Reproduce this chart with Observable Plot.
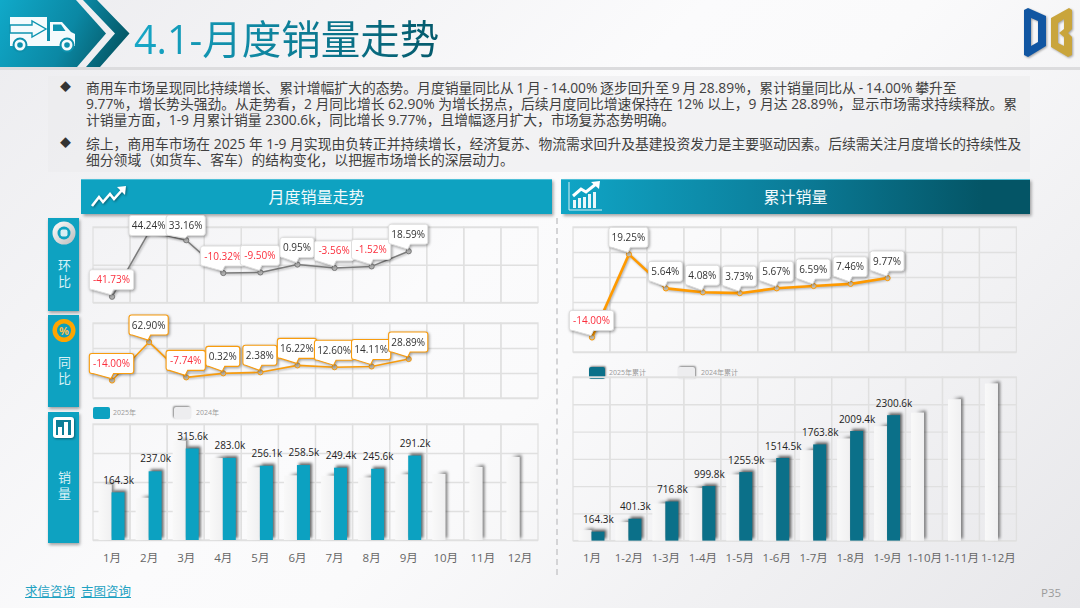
<!DOCTYPE html>
<html lang="zh-CN"><head><meta charset="utf-8">
<script src="https://cdn.jsdelivr.net/npm/d3@7"></script>
<script src="https://cdn.jsdelivr.net/npm/@observablehq/plot@0.6"></script>
<style>
html,body{margin:0;padding:0}
body{width:1080px;height:608px;overflow:hidden;position:relative;font-family:"Open Sans","Noto Sans CJK SC",sans-serif;
background:linear-gradient(135deg,#ececef 0%,#fbfbfc 42%,#fafafb 55%,#e7e7ea 100%)}
.a{position:absolute}
.plotbox{position:absolute}
.plotbox svg{overflow:visible;background:none;display:block}
.line{position:absolute;left:86px;font-size:13.8px;line-height:16px;color:#404040;white-space:nowrap}
.bul{position:absolute;left:60px;font-size:11px;line-height:16px;color:#333}
.side{position:absolute;left:48px;width:31px;background:#0ea2c1;box-shadow:1px 2px 3px rgba(0,0,0,.35)}
.sideText{position:absolute;left:48px;width:31px;display:flex;justify-content:center;color:#d9f1f6;font-size:13px;line-height:31px;writing-mode:vertical-rl;text-orientation:upright;letter-spacing:2.5px;white-space:nowrap}
.head{position:absolute;top:179px;height:35px;line-height:35px;text-align:center;color:#f2fafc;font-size:16px;box-shadow:1.5px 2px 3px rgba(0,0,0,.35);border-top:1px solid #4fc0d8;box-sizing:border-box}
.sw{position:absolute;border-radius:2px}
.lg{position:absolute;font-size:7px;line-height:10px;color:#9a9a9a;white-space:nowrap}
</style></head><body>
<svg width="0" height="0" style="position:absolute"><defs>
<linearGradient id="shade24" x1="0" x2="1" y1="0" y2="0"><stop offset="0.25" stop-color="#fff" stop-opacity="0"/><stop offset="1" stop-color="#eee" stop-opacity="1"/></linearGradient>
<linearGradient id="face24" x1="0" x2="1" y1="0" y2="0"><stop offset="0" stop-color="#f9f9f9"/><stop offset="1" stop-color="#f0f0f1"/></linearGradient>
</defs></svg>

<!-- header banner -->
<div class="a" style="left:0;top:67px;width:1080px;height:3px;background:#dcdcde"></div>
<svg class="a" style="left:0;top:0" width="140" height="68">
<defs><linearGradient id="ban" gradientUnits="userSpaceOnUse" x1="0" y1="0" x2="125" y2="60"><stop offset="0" stop-color="#10a9c9"/><stop offset="0.55" stop-color="#0b88a4"/><stop offset="1" stop-color="#04525f"/></linearGradient></defs>
<polygon points="0,0 76,0 106,33.5 77,67 0,67" fill="url(#ban)"/>
<polygon points="83,0 97,0 129.5,33.5 100,67 86,67 115,33.5" fill="url(#ban)"/>
<g fill="#f4fbfd">
<rect x="10" y="17" width="37" height="24"/>
<path d="M50 22h12l9 10 4 2v9h-25z"/>
<rect x="10" y="41" width="65" height="5"/>
</g>
<polygon points="10,25 32,25 32,21 46,29 32,37 32,33 10,33" fill="#f4fbfd" stroke="#0d94b0" stroke-width="1.4"/>
<polygon points="53,24.5 61,24.5 65.5,31 53,31" fill="#0d94b0"/>
<g fill="#f4fbfd" stroke="#0d90ac" stroke-width="2"><circle cx="20" cy="45" r="6.5"/><circle cx="67" cy="45" r="6.5"/></g>
<circle cx="20" cy="45" r="2.8" fill="#0d90ac"/><circle cx="67" cy="45" r="2.8" fill="#0d90ac"/>
</svg>
<div class="a" style="left:134px;top:12px;font-size:39.5px;line-height:54px;white-space:nowrap;background:linear-gradient(90deg,#17a7c7,#04596b);-webkit-background-clip:text;background-clip:text;color:transparent">4.1-月度销量走势</div>
<svg class="a" style="left:1020px;top:4px;filter:drop-shadow(1px 1.5px 1px rgba(0,0,0,.35))" width="58" height="58" viewBox="1020 4 58 58">
<path fill-rule="evenodd" fill="#1156a2" d="M1024 10L1028 8L1046 16V46L1028 57L1024 55ZM1031 18V46L1038 42V21Z"/>
<path fill-rule="evenodd" fill="#c9a53c" d="M1051 18L1069 8L1072 10V29L1068 33L1072 37V55L1068 57L1051 47ZM1058 23V43L1064 46V37L1059 33L1064 29V19Z"/>
</svg>

<!-- text block -->
<div class="a" style="left:48px;top:76px;width:982px;height:96px;background:rgba(235,235,237,.55)"></div>
<div class="bul" style="top:79px">◆</div><div class="bul" style="top:135px">◆</div>
<div class="line" style="top:79.5px;word-spacing:-0.85px">商用车市场呈现同比持续增长、累计增幅扩大的态势。月度销量同比从 1 月 - 14.00% 逐步回升至 9 月 28.89%，累计销量同比从 - 14.00% 攀升至</div>
<div class="line" style="top:95.5px">9.77%，增长势头强劲。从走势看，2 月同比增长 62.90% 为增长拐点，后续月度同比增速保持在 12% 以上，9 月达 28.89%，显示市场需求持续释放。累</div>
<div class="line" style="top:111.5px">计销量方面，1-9 月累计销量 2300.6k，同比增长 9.77%，且增幅逐月扩大，市场复苏态势明确。</div>
<div class="line" style="top:135.5px">综上，商用车市场在 2025 年 1-9 月实现由负转正并持续增长，经济复苏、物流需求回升及基建投资发力是主要驱动因素。后续需关注月度增长的持续性及</div>
<div class="line" style="top:151.5px">细分领域（如货车、客车）的结构变化，以把握市场增长的深层动力。</div>

<!-- section headers -->
<div class="head" style="left:81px;width:471px;background:#0ea2c1">月度销量走势</div>
<div class="head" style="left:561px;width:469px;background:linear-gradient(90deg,#10a5c6,#0b7c98 50%,#045566 90%)">累计销量</div>
<svg class="a" style="left:88px;top:183px;filter:drop-shadow(1px 1px 1px rgba(0,0,0,.4))" width="40" height="28"><polyline points="4,23 11,14 15,19 22,11 26,16 35,6" fill="none" stroke="#fff" stroke-width="2.6"/><polygon points="29,4 38,3 37,12" fill="#fff"/></svg>
<svg class="a" style="left:566px;top:180px" width="38" height="32"><polyline points="3,2 3,30 36,30" fill="none" stroke="#d8f0f5" stroke-width="1"/><g fill="#e9f7fa"><rect x="7" y="20" width="3" height="8"/><rect x="12" y="18" width="3" height="10"/><rect x="17" y="17" width="3" height="11"/><rect x="22" y="14" width="3" height="14"/><rect x="27" y="12" width="3" height="16"/></g><polyline points="7,16 15,9 20,12 30,4" fill="none" stroke="#fff" stroke-width="3"/><polygon points="25,2 34,1 33,9" fill="#fff"/></svg>

<!-- side panels -->
<div class="side" style="top:218px;height:93px"></div>
<div class="side" style="top:315px;height:92px"></div>
<div class="side" style="top:412px;height:131px"></div>
<div class="sideText" style="top:258.5px">环比</div>
<div class="sideText" style="top:355.5px">同比</div>
<div class="sideText" style="top:470.5px">销量</div>
<svg class="a" style="left:48px;top:218px" width="31" height="32"><defs><linearGradient id="ringG" x1="0" y1="0" x2="1" y2="1"><stop offset="0" stop-color="#fff"/><stop offset="1" stop-color="#bbb"/></linearGradient></defs><circle cx="16" cy="15" r="11.5" fill="url(#ringG)"/><circle cx="16" cy="15" r="6.5" fill="#0ea2c1"/><rect x="12.5" y="11.5" width="7" height="7" rx="2" fill="#d8eef3"/></svg>
<svg class="a" style="left:48px;top:315px" width="31" height="32"><circle cx="16" cy="15.5" r="11.5" fill="#ffa500"/><circle cx="16" cy="15.5" r="7" fill="#0e9fbc"/><text x="16" y="19.5" text-anchor="middle" font-size="11" font-weight="700" fill="#ffc04d" font-family="Open Sans">%</text></svg>
<svg class="a" style="left:48px;top:412px;filter:drop-shadow(1px 1.5px 1px rgba(0,0,0,.4))" width="31" height="32"><rect x="5" y="5" width="21" height="21" rx="3" fill="#fff"/><rect x="8" y="8" width="15" height="15" fill="#0c7d96"/><rect x="10" y="15" width="4" height="8" fill="#fff"/><rect x="16" y="10" width="4" height="13" fill="#fff"/></svg>

<div class="a" style="left:556px;top:218px;height:357px;border-left:2px dashed #d4d4d6"></div>

<!-- legends -->
<div class="sw" style="left:93px;top:407px;width:17px;height:12px;background:#0ca1c1"></div>
<div class="lg" style="left:113px;top:408px">2025年</div>
<div class="sw" style="left:174px;top:407px;width:17px;height:12px;background:#ededef;box-shadow:-1px -1px 2px rgba(0,0,0,.45)"></div>
<div class="lg" style="left:196px;top:408px">2024年</div>
<div class="sw" style="left:589px;top:367px;width:16px;height:12px;background:#0b7089;box-shadow:1px -1px 2px rgba(0,0,0,.45)"></div>
<div class="lg" style="left:609px;top:367.5px">2025年累计</div>
<div class="sw" style="left:678px;top:367px;width:17px;height:12px;background:#ededef;box-shadow:1px -1px 2px rgba(0,0,0,.45)"></div>
<div class="lg" style="left:701px;top:367.5px">2024年累计</div>

<div class="a" style="left:25px;top:584px;font-size:12.5px;line-height:16px;color:#1fa2c2;text-decoration:underline;white-space:nowrap">求信咨询</div>
<div class="a" style="left:81px;top:584px;font-size:12.5px;line-height:16px;color:#1fa2c2;text-decoration:underline;white-space:nowrap">吉图咨询</div>
<div class="a" style="left:1041px;top:585px;font-size:11.5px;line-height:16px;color:#9b9b9b">P35</div>

<script>
const months = ["1月","2月","3月","4月","5月","6月","7月","8月","9月","10月","11月","12月"];
const cumMonths = ["1月","1-2月","1-3月","1-4月","1-5月","1-6月","1-7月","1-8月","1-9月","1-10月","1-11月","1-12月"];
const qoq = [-41.73,44.24,33.16,-10.32,-9.50,0.95,-3.56,-1.52,18.59];
const yoy = [-14.00,62.90,-7.74,0.32,2.38,16.22,12.60,14.11,28.89];
const cumYoy = [-14.00,19.25,5.64,4.08,3.73,5.67,6.59,7.46,9.77];
const sales2025 = [164.3,237.0,315.6,283.0,256.1,258.5,249.4,245.6,291.2];
const sales2024 = [191.0,145.5,342.1,282.1,250.1,222.4,221.5,215.2,225.9,227.6,251.7,286.0];
const cum2025 = [164.3,401.3,716.8,999.8,1255.9,1514.5,1763.8,2009.4,2300.6];
const cum2024 = [191.0,336.5,678.5,960.6,1210.7,1433.3,1654.8,1869.9,2095.8,2345,2590,2880];

const GRID = "#e0e0e0";
const M = 22;

function place(plot, frameLeft, frameTop, marginTop){
  const d = document.createElement("div");
  d.className = "plotbox";
  d.style.left = (frameLeft - M) + "px";
  d.style.top = (frameTop - marginTop) + "px";
  d.appendChild(plot);
  document.body.appendChild(d);
}
function gridMarks(domain, yDomain, yTicks){
  return [
    Plot.ruleY(yTicks, {y:d=>d, stroke:GRID, strokeWidth:1.3}),
    Plot.barY(domain, {x:d=>d, y1:yDomain[0], y2:yDomain[1], fill:"none", stroke:GRID, strokeWidth:1.3})
  ];
}
function callouts(cats, vals, o){
  const data = vals.map((v,i)=>({cat:cats[i], v, label:v.toFixed(2)+"%"}));
  return Plot.text(data, {x:"cat", y:"v", text:"label",
    render(index, scales, values, dims){
      const g = d3.create("svg:g").style("filter","drop-shadow(1.5px 1.5px 1.5px rgba(0,0,0,.4))");
      const minTop = dims.marginTop - (o.clampAbove ?? 1000);
      const half = (dims.width - dims.marginLeft - dims.marginRight) / o.bands / 2;
      for (const i of index){
        const px = values.x[i] + half, py = values.y[i], d = data[i];
        const w = 8 + 5.2*d.label.length, h = 20, r = 2.5;
        let bottom = py - 6.5;
        let top = bottom - h;
        if (top < minTop){ top = minTop; bottom = top + h; }
        const l = px - w/2, R = px + w/2;
        const tail = py - 1.5 > bottom;
        const path = d3.path();
        path.moveTo(l+r, top); path.lineTo(R-r, top); path.arcTo(R,top,R,top+r,r);
        path.lineTo(R, bottom-r); path.arcTo(R,bottom,R-r,bottom,r);
        if (tail){ path.lineTo(px+2, bottom); path.lineTo(px-0.5, py-1.5); path.lineTo(px-w*0.42, bottom); }
        path.lineTo(l+r, bottom); path.arcTo(l,bottom,l,bottom-r,r);
        path.lineTo(l, top+r); path.arcTo(l,top,l+r,top,r); path.closePath();
        g.append("path").attr("d", path.toString()).attr("fill","#fff").attr("stroke",o.stroke).attr("stroke-width",o.strokeWidth);
        g.append("text").attr("x",px).attr("y",(top+bottom)/2).attr("dy","0.35em").attr("text-anchor","middle")
          .attr("font-size",10).attr("font-family",'"Open Sans","Noto Sans CJK SC",sans-serif')
          .attr("fill", d.v < 0 ? "#fb2f3d" : "#333").text(d.label);
      }
      return g.node();
    }
  });
}
function lineChart({left, top, w, h, cats, vals, yDomain, yTicks, lineColor, lineWidth, dotFill, boxStroke, boxWidth, clampAbove}){
  const mt = 14;
  const cur = cats.slice(0, vals.length);
  const p = Plot.plot({width:w+2*M, height:h+mt+8, marginLeft:M, marginRight:M, marginTop:mt, marginBottom:8,
    style:{background:"none"},
    x:{type:"band", domain:cats, padding:0, round:false, axis:null},
    y:{domain:yDomain, axis:null},
    marks:[
      ...gridMarks(cats, yDomain, yTicks),
      Plot.line(vals, {x:(d,i)=>cur[i], y:d=>d, stroke:lineColor, strokeWidth:lineWidth, curve:"linear", imageFilter:"drop-shadow(1px 1.5px 1px rgba(0,0,0,.3))"}),
      Plot.dot(vals, {x:(d,i)=>cur[i], y:d=>d, r:2.6, fill:dotFill, stroke:lineColor, strokeWidth:1}),
      callouts(cur, vals, {stroke:boxStroke, strokeWidth:boxWidth, clampAbove, bands:cats.length})
    ]});
  place(p, left, top, mt);
}
function barChart({left, top, w, h, cats, vals, prior, yDomain, yTicks, color, dy}){
  const mt = 6, mb = 26;
  const step = w/12, bw = 13;
  const shadow = "drop-shadow(2px -1.5px 1.5px rgba(0,0,0,.6))";
  const p = Plot.plot({width:w+2*M, height:h+mt+mb, marginLeft:M, marginRight:M, marginTop:mt, marginBottom:mb,
    style:{background:"none"},
    x:{type:"band", domain:cats, padding:0, round:false},
    y:{domain:yDomain, axis:null},
    marks:[
      ...gridMarks(cats, yDomain, yTicks),
      Plot.barY(prior, {x:(d,i)=>cats[i], y:d=>d, fill:"url(#shade24)", insetLeft:step/2-bw, insetRight:step/2, imageFilter:shadow}),
      Plot.barY(prior, {x:(d,i)=>cats[i], y:d=>d, fill:"url(#face24)", insetLeft:step/2-bw, insetRight:step/2}),
      Plot.barY(vals, {x:(d,i)=>cats[i], y:d=>d, fill:color, insetLeft:step/2, insetRight:step/2-bw, imageFilter:shadow}),
      Plot.text(vals, {x:(d,i)=>cats[i], y:d=>d, text:d=>d.toFixed(1)+"k", dx:bw/2, dy, fontSize:10, fill:"#222", fontFamily:'"Open Sans","Noto Sans CJK SC",sans-serif'}),
      Plot.axisX({tickSize:0, tickPadding:13, fontSize:11.5, color:"#666", label:null, fontFamily:'"Open Sans","Noto Sans CJK SC",sans-serif'})
    ]});
  place(p, left, top, mt);
}

lineChart({left:93.3, top:226.5, w:445, h:75.5, cats:months, vals:qoq, yDomain:[-50,50], yTicks:[-50,0,50],
  lineColor:"#7b7b7b", lineWidth:1.5, dotFill:"#b5b5b5", boxStroke:"#dedede", boxWidth:1, clampAbove:11.5});
lineChart({left:93.3, top:323.2, w:445, h:75, cats:months, vals:yoy, yDomain:[-50,100], yTicks:[-50,0,50,100],
  lineColor:"#f89c0e", lineWidth:1.6, dotFill:"#bdb6a8", boxStroke:"#f89c0e", boxWidth:1.1});
barChart({left:93.3, top:424.3, w:445, h:116, cats:months, vals:sales2025, prior:sales2024, yDomain:[0,400], yTicks:[0,100,200,300,400], color:"#0ca1c1", dy:-12.5});

lineChart({left:573.3, top:226.7, w:443.4, h:125, cats:cumMonths, vals:cumYoy, yDomain:[-20,30], yTicks:[-20,-10,0,10,20,30],
  lineColor:"#ff9a00", lineWidth:2.6, dotFill:"#c6c0b2", boxStroke:"#dcdcdc", boxWidth:1});
barChart({left:573.3, top:376.7, w:443.4, h:163.6, cats:cumMonths, vals:cum2025, prior:cum2024, yDomain:[0,3000], yTicks:[0,500,1000,1500,2000,2500,3000], color:"#0b7089", dy:-12});
</script>
</body></html>
